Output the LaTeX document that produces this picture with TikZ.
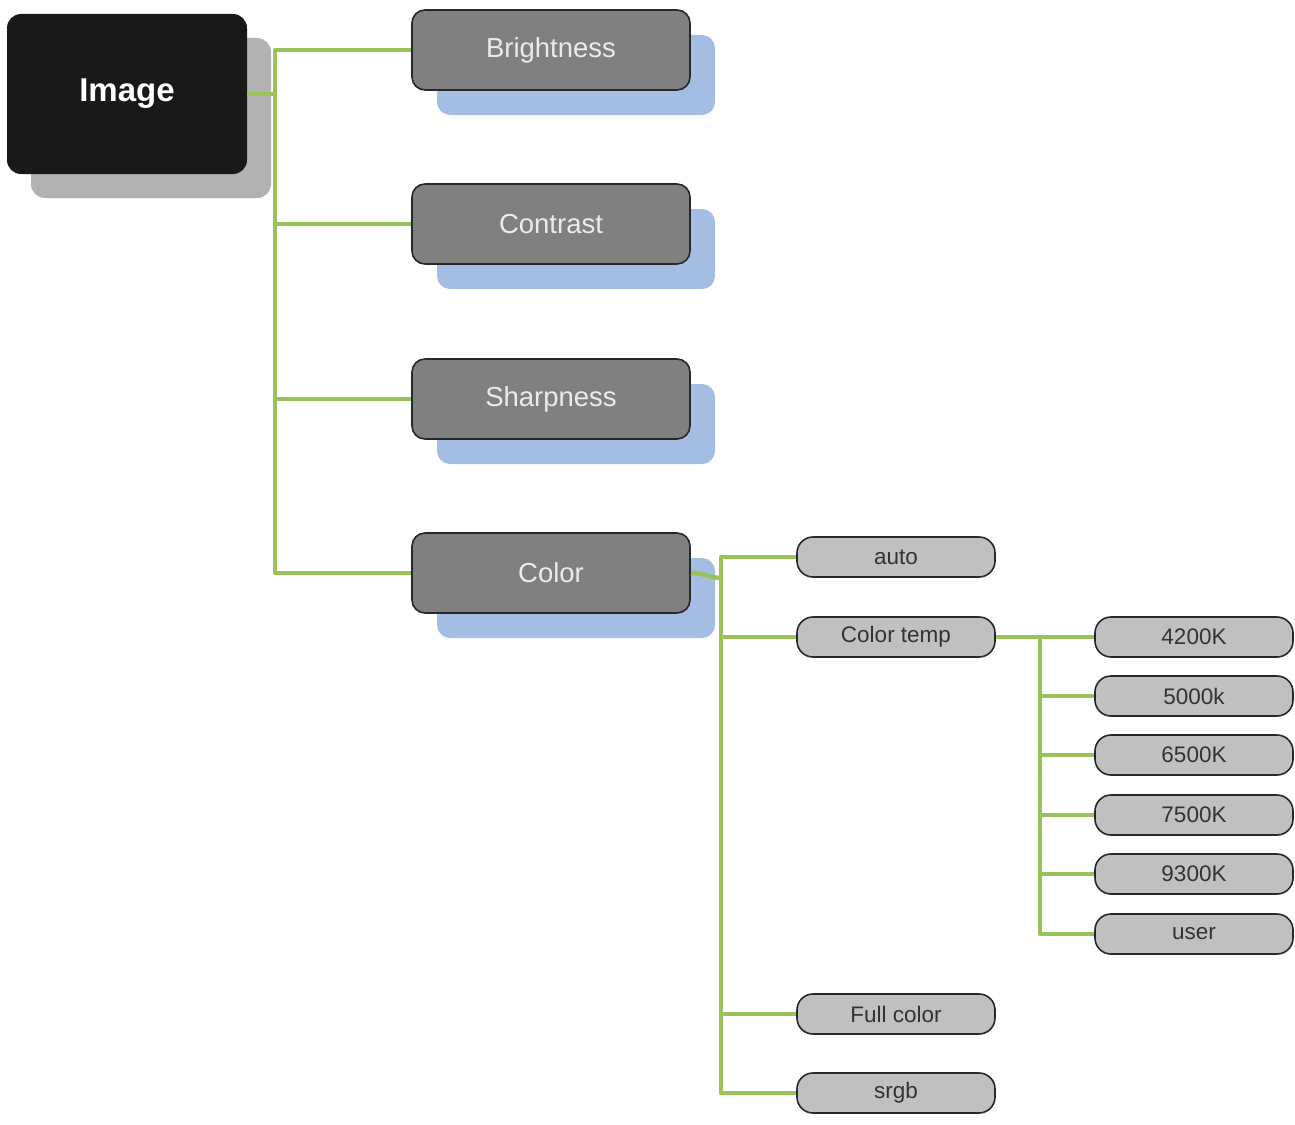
\documentclass[tikz,border=0pt]{standalone}
\usepackage{fontspec}
\setmainfont{Liberation Sans}
\usetikzlibrary{shadows}
\definecolor{conngreen}{RGB}{155,194,90}
\definecolor{shblue}{RGB}{163,189,227}
\definecolor{shgray}{RGB}{178,178,178}
\definecolor{boxgray}{RGB}{128,128,128}
\definecolor{smallgray}{RGB}{192,192,192}
\definecolor{darkedge}{RGB}{40,40,40}
\tikzset{
  rootbox/.style={fill=black!90, rounded corners=14pt, minimum width=240pt, minimum height=160pt, inner sep=0pt,
    text=white, font=\bfseries\fontsize{33}{38}\selectfont,
    drop shadow={shadow xshift=24pt, shadow yshift=-24pt, fill=shgray, opacity=1}},
  bigbox/.style={fill=boxgray, draw=darkedge, line width=1.6pt, rounded corners=13pt, minimum width=278pt, minimum height=80pt, inner sep=0pt,
    text=white!92!black, font=\fontsize{27.5}{32}\selectfont,
    drop shadow={shadow xshift=25pt, shadow yshift=-25pt, fill=shblue, opacity=1, draw=none}},
  smallbox/.style={fill=smallgray, draw=darkedge, line width=1.6pt, rounded corners=16pt, minimum width=198pt, minimum height=40pt, inner sep=0pt,
    text=black!80, font=\fontsize{22.5}{26}\selectfont},
  conn/.style={draw=conngreen, line width=4.5pt, line join=round}
}
\begin{document}
\begin{tikzpicture}[x=1pt,y=-1pt]
\useasboundingbox (0,0) rectangle (1295,1124);
\coordinate (j1) at (275,94);
\coordinate (j2) at (721,578);
\coordinate (j3) at (1040,637);

\node[rootbox] (image) at (127,94) {Image};
\node[bigbox] (bright) at (551,50) {Brightness};
\node[bigbox] (contrast) at (551,224) {Contrast};
\node[bigbox] (sharp) at (551,399) {Sharpness};
\node[bigbox] (color) at (551,573) {Color};

\node[smallbox] (auto) at (896,557) {auto};
\node[smallbox] (ctemp) at (896,637) {Color temp};
\node[smallbox] (full) at (896,1014) {Full color};
\node[smallbox] (srgb) at (896,1093) {srgb};

\node[smallbox] (k42) at (1194,637) {4200K};
\node[smallbox] (k50) at (1194,696) {5000k};
\node[smallbox] (k65) at (1194,755) {6500K};
\node[smallbox] (k75) at (1194,815) {7500K};
\node[smallbox] (k93) at (1194,874) {9300K};
\node[smallbox] (kuser) at (1194,934) {user};

\draw[conn] (image.east) -- (j1);
\draw[conn] (bright.west) -| (j1);
\draw[conn] (contrast.west) -| (j1);
\draw[conn] (sharp.west) -| (j1);
\draw[conn] (color.west) -| (j1);

\draw[conn] (color.east) .. controls (705,573) and (710,578) .. (j2);
\draw[conn] (auto.west) -| (j2);
\draw[conn] (ctemp.west) -| (j2);
\draw[conn] (full.west) -| (j2);
\draw[conn] (srgb.west) -| (j2);

\draw[conn] (ctemp.east) -- (j3);
\draw[conn] (k42.west) -| (j3);
\draw[conn] (k50.west) -| (j3);
\draw[conn] (k65.west) -| (j3);
\draw[conn] (k75.west) -| (j3);
\draw[conn] (k93.west) -| (j3);
\draw[conn] (kuser.west) -| (j3);
\end{tikzpicture}
\end{document}
